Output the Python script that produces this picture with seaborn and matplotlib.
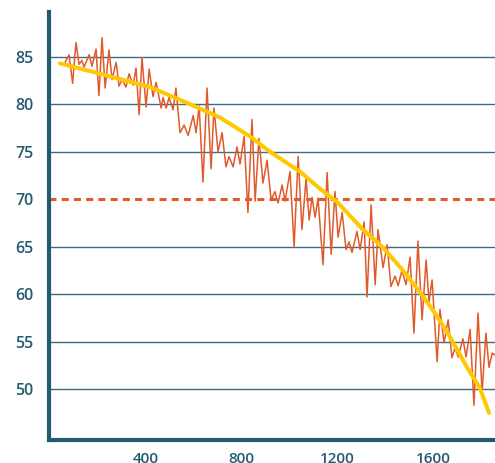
import pandas as pd
import seaborn as sns
import matplotlib.pyplot as plt

# === Data ===
signal_x = [61, 78, 93, 107, 120, 132, 141, 162, 174, 191, 203, 216, 229, 245, 258,
            275, 287, 300, 316, 329, 346, 358, 371, 383, 400, 413, 429, 442, 463, 471,
            484, 496, 513, 525, 542, 559, 576, 597, 609, 622, 638, 655, 672, 684, 701,
            718, 734, 747, 764, 780, 793, 810, 826, 843, 856, 872, 889, 906, 923, 939,
            952, 969, 981, 1002, 1019, 1036, 1052, 1069, 1082, 1094, 1107, 1119, 1140,
            1157, 1174, 1190, 1203, 1220, 1236, 1249, 1261, 1282, 1295, 1312, 1324,
            1341, 1358, 1370, 1391, 1408, 1424, 1441, 1454, 1470, 1487, 1504, 1520,
            1537, 1554, 1571, 1583, 1596, 1617, 1629, 1646, 1663, 1679, 1692, 1705,
            1725, 1738, 1755, 1771, 1788, 1805, 1821, 1834, 1847, 1859]
signal_y = [84.4, 85.2, 82.2, 86.5, 84.2, 84.6, 83.9, 85.2, 84.0, 85.8, 80.9, 87.0, 81.7,
            85.7, 82.6, 84.4, 81.9, 82.6, 81.8, 83.2, 82.0, 83.8, 78.9, 84.9, 79.7, 83.7,
            80.8, 82.3, 79.6, 80.7, 79.6, 80.7, 79.4, 81.7, 77.0, 77.8, 76.7, 78.8, 77.0,
            79.8, 71.8, 81.7, 73.2, 79.6, 75.0, 77.0, 73.4, 74.5, 73.4, 75.5, 73.7, 76.6,
            68.6, 78.4, 69.8, 76.4, 71.7, 74.1, 69.9, 70.8, 69.6, 71.5, 69.8, 72.9, 65.0,
            74.5, 66.8, 72.2, 67.8, 70.2, 68.1, 70.1, 63.1, 72.8, 64.2, 70.8, 66.0, 68.6,
            64.7, 65.5, 64.4, 66.6, 64.7, 67.6, 59.7, 69.4, 61.0, 66.8, 62.8, 65.2, 60.8,
            61.9, 60.9, 62.5, 61.0, 63.9, 55.9, 65.6, 57.3, 63.6, 59.2, 61.5, 52.9, 58.4,
            54.9, 57.3, 53.3, 54.4, 53.4, 55.3, 53.4, 56.3, 48.3, 58.0, 49.7, 55.9, 52.3,
            53.8, 53.6]

trend_x = [40, 208, 417, 584, 709, 835, 918, 1044, 1127, 1199, 1307, 1391, 1474,
           1546, 1608, 1671, 1742, 1796, 1834]
trend_y = [84.3, 83.2, 81.8, 80.0, 78.6, 76.6, 75.0, 72.9, 71.1, 69.7, 66.8, 64.9, 62.5,
           60.2, 58.0, 55.5, 52.3, 50.1, 47.5]

threshold = 70
y_ticks = [50, 55, 60, 65, 70, 75, 80, 85]
x_ticks = [400, 800, 1200, 1600]

signal = pd.DataFrame({"x": signal_x, "y": signal_y})
trend = pd.DataFrame({"x": trend_x, "y": trend_y})

# === Style ===
sns.set_theme(style="white")
plt.rcParams["font.family"] = ["Open Sans", "DejaVu Sans"]
teal = "#245a6d"
grid_col = "#3b6d80"
orange = "#e15a2a"
yellow = "#ffc800"

fig = plt.figure(figsize=(4.95, 4.63), dpi=100)
ax = fig.add_axes([0.0984, 0.0486, 0.9016, 0.9254])

for v in y_ticks:
    if v != threshold:
        ax.axhline(v, color=grid_col, linewidth=1.0, zorder=1)
ax.axhline(threshold, color=orange, linewidth=2.2, dashes=(2.3, 1.7), zorder=2)

sns.lineplot(data=signal, x="x", y="y", ax=ax, color=orange, linewidth=1.1,
             sort=False, estimator=None, zorder=3)
sns.lineplot(data=trend, x="x", y="y", ax=ax, color=yellow, linewidth=2.9,
             sort=False, estimator=None, zorder=4)

ax.set_xlim(-7, 1859)
ax.set_ylim(44.6, 89.7)
ax.set_xticks(x_ticks)
ax.set_yticks(y_ticks)
ax.set_xlabel("")
ax.set_ylabel("")

for side in ["top", "right"]:
    ax.spines[side].set_visible(False)
for side in ["left", "bottom"]:
    ax.spines[side].set_color(teal)
    ax.spines[side].set_linewidth(3.0)

ax.tick_params(axis="x", direction="in", length=7.2, width=2.2, color=teal,
               pad=8.5, labelsize=11, labelcolor=teal)
ax.tick_params(axis="y", length=0, pad=11, labelsize=11.5, labelcolor=teal)
for lbl in ax.get_xticklabels() + ax.get_yticklabels():
    lbl.set_fontweight("semibold")

fig.savefig("out.png", dpi=100)
